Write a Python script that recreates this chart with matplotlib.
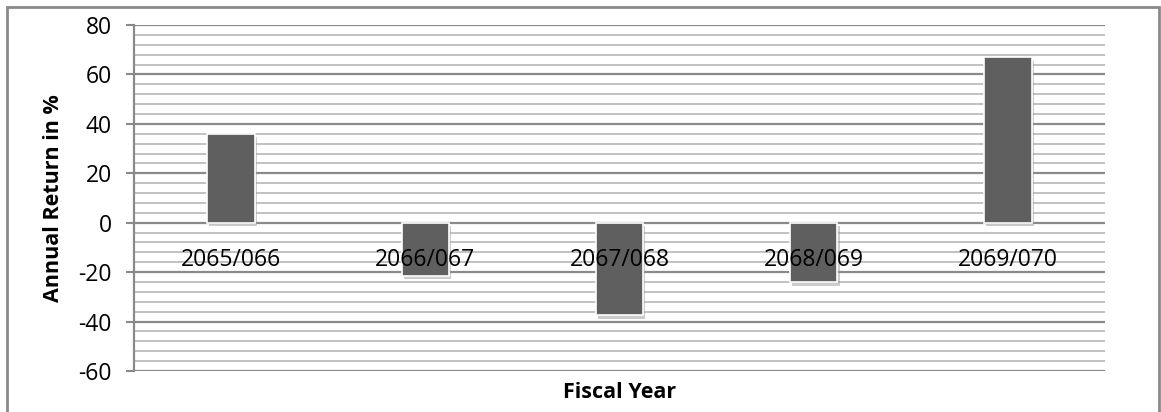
import matplotlib
matplotlib.use("Agg")
import matplotlib.pyplot as plt
import matplotlib.patheffects as pe
import numpy as np
from matplotlib.patches import Rectangle

categories = ["2065/066", "2066/067", "2067/068", "2068/069", "2069/070"]
returns = [36, -21.5, -37.5, -24, 67]
y_ticks = [-60, -40, -20, 0, 20, 40, 60, 80]

plt.rcParams['font.family'] = ['Open Sans', 'DejaVu Sans']

fig = plt.figure(figsize=(11.61, 4.12), dpi=100)
ax = fig.add_axes([134/1161, 1 - 371/412, (1105-134)/1161, (371-25)/412])
ax.set_axisbelow(False)

x = np.arange(len(categories))
ax.spines['bottom'].set_position(('data', 0))
ax.spines['bottom'].set_visible(False)
ax.set_xlim(-0.5, len(categories) - 0.5)
ax.set_ylim(-60, 80)

# gridlines
minor = np.arange(-60, 81, 4)
for v in minor:
    if v % 20 == 0:
        continue
    ax.axhline(v, color='#c2c2c2', lw=1.4, zorder=1)
for v in y_ticks:
    ax.axhline(v, color='#8a8a8a', lw=1.6, zorder=1.1)

bars = ax.bar(x, returns, width=0.245, color='#5f5f5f', edgecolor='white', lw=1.2, zorder=2)
for b in bars:
    b.set_path_effects([pe.SimplePatchShadow(offset=(1.5, -2.5), shadow_rgbFace='#9a9a9a', alpha=0.5), pe.Normal()])

ax.set_yticks(y_ticks)
ax.set_yticklabels([str(v) for v in y_ticks], fontsize=16.5)
ax.tick_params(axis='y', length=6, width=1.5, color='#8a8a8a', pad=10, direction='out')

# category labels near zero line
ax.set_xticks(x)
ax.set_xticklabels(categories, fontsize=16.5)
ax.tick_params(axis='x', length=0, pad=18)

for s in ['top', 'right']:
    ax.spines[s].set_visible(False)
ax.spines['left'].set_color('#8a8a8a')
ax.spines['left'].set_linewidth(1.6)

ax.set_ylabel("Annual Return in %", fontsize=15.5, fontweight='bold', labelpad=10)
fig.text(619.5/1161, 1 - 393/412, "Fiscal Year", fontsize=15.5, fontweight='bold', ha='center', va='center')

# outer border
fig.patches.append(Rectangle((7/1161, -0.05), (1159-7)/1161, 1.05 - 7/412, transform=fig.transFigure,
                             fill=False, edgecolor='#8a8a8a', lw=2))

fig.savefig("out.png", dpi=100)
